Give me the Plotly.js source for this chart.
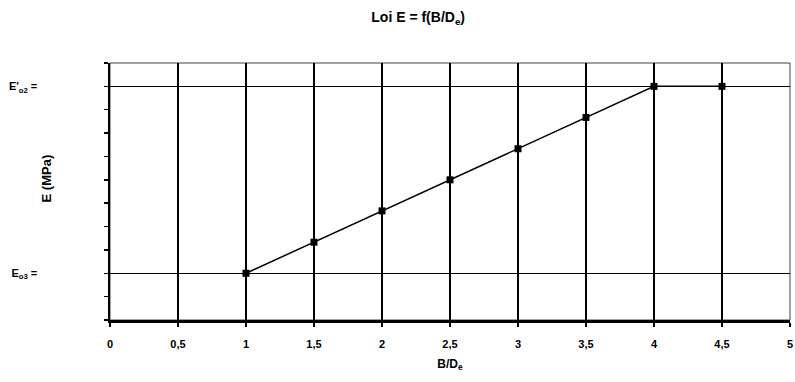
<!DOCTYPE html>
<html>
<head>
<meta charset="utf-8">
<script src="https://cdn.plot.ly/plotly-3.0.1.min.js"></script>
<style>html,body{margin:0;padding:0;background:#fff}#chart{width:795px;height:382px}</style>
</head>
<body>
<div id="chart"></div>
<script>
// Data
const ratioBD = [1, 1.5, 2, 2.5, 3, 3.5, 4, 4.5];
const modulusE = [2, 3.33, 4.67, 6, 7.33, 8.67, 10, 10];

const xTickVals = [0, 0.5, 1, 1.5, 2, 2.5, 3, 3.5, 4, 4.5, 5];
const xTickText = ["0", "0,5", "1", "1,5", "2", "2,5", "3", "3,5", "4", "4,5", "5"];
const yTickVals = [2, 10];
const yTickText = ["E<sub>o3</sub> =", "E'<sub>o2</sub> ="];

const fontFam = "Liberation Sans, Arial, sans-serif";

const trace = {
  x: ratioBD, y: modulusE,
  type: 'scatter', mode: 'lines+markers',
  line: {color: '#000', width: 1.5},
  marker: {symbol: 'square', size: 7, color: '#000'},
  showlegend: false, cliponaxis: false
};

const layout = {
  width: 795, height: 382,
  margin: {l: 110, r: 5, t: 63, b: 62},
  paper_bgcolor: '#fff', plot_bgcolor: '#fff',
  font: {family: fontFam, color: '#000', size: 11},
  title: {text: '<b>Loi E = f(B/D<sub>e</sub>)</b>', font: {size: 14, family: fontFam, color: '#000'},
          x: 0.526, xref: 'container', xanchor: 'center', y: 0.955, yref: 'container', yanchor: 'middle'},
  xaxis: {
    range: [0, 5], tickvals: xTickVals, ticktext: xTickText.map(t => '<b>' + t + '</b>'),
    showgrid: true, gridcolor: '#000', gridwidth: 2.5,
    showline: true, linecolor: '#000', linewidth: 2.5,
    ticks: 'outside', ticklen: 4, tickwidth: 2, tickcolor: '#000',
    ticklabelstandoff: 8,
    tickfont: {size: 11, family: fontFam}, zeroline: false,
    title: {text: '<b>B/D<sub>e</sub></b>', font: {size: 12, family: fontFam}, standoff: 11}
  },
  yaxis: {
    range: [0, 11], tickvals: yTickVals, ticktext: yTickText.map(t => '<b>' + t + '</b>'),
    showgrid: true, gridcolor: '#000', gridwidth: 1,
    showline: true, linecolor: '#000', linewidth: 2.5,
    ticks: 'outside', ticklen: 4, tickwidth: 1.5, tickcolor: '#000',
    ticklabelstandoff: 64,
    tickfont: {size: 11, family: fontFam}, zeroline: false,
    minor: {dtick: 1, tick0: 0, ticks: 'outside', ticklen: 4, tickwidth: 1.5, tickcolor: '#000', showgrid: false}
  },
  annotations: [{
    text: '<b>E (MPa)</b>', xref: 'paper', yref: 'paper', x: -0.093, y: 0.55,
    xanchor: 'center', yanchor: 'middle', textangle: -90, showarrow: false,
    font: {size: 13, family: fontFam, color: '#000'}
  }],
  shapes: [{type: 'rect', xref: 'paper', yref: 'paper', x0: 0, x1: 1, y0: 0, y1: 1,
            line: {color: '#444', width: 1}, layer: 'below'}]
};

Plotly.newPlot('chart', [trace], layout, {displayModeBar: false, staticPlot: true});
</script>
</body>
</html>
